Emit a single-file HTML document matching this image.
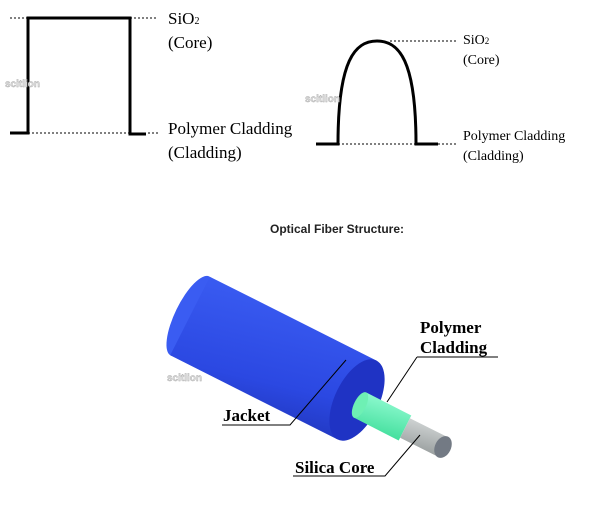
<!DOCTYPE html>
<html><head><style>body{margin:0;background:#fff}svg{display:block}</style></head><body>
<svg width="614" height="506" viewBox="0 0 614 506" xmlns="http://www.w3.org/2000/svg">
<defs>
<linearGradient id="jk" x1="0.3" y1="0" x2="0" y2="1">
<stop offset="0" stop-color="#3a5cf2"/><stop offset="0.55" stop-color="#2b48e2"/><stop offset="1" stop-color="#1a2ca8"/></linearGradient>
<linearGradient id="gr" x1="0.3" y1="0" x2="0" y2="1"><stop offset="0" stop-color="#8ffad0"/><stop offset="1" stop-color="#2fd890"/></linearGradient>
<linearGradient id="gy" x1="0.3" y1="0" x2="0" y2="1"><stop offset="0" stop-color="#d0d4d4"/><stop offset="1" stop-color="#8a9090"/></linearGradient>
</defs>
<g stroke="#000" fill="none">
<path d="M10 133H28V18H130V134H146" stroke-width="3"/>
<path d="M10 18H28M130 18H158M28 133H158" stroke-width="1" stroke-dasharray="2,2"/>
<path d="M316 144H338C338 60 355 41 377 41C399 41 416 60 416 144H438" stroke-width="3"/>
<path d="M390 41H458M338 144H458" stroke-width="1" stroke-dasharray="2,2"/>
</g>
<g font-family="Liberation Serif,serif" fill="#000">
<text x="168" y="24" font-size="17">SiO<tspan font-size="10">2</tspan></text>
<text x="168" y="48" font-size="17">(Core)</text>
<text x="168" y="134" font-size="17">Polymer Cladding</text>
<text x="168" y="158" font-size="17">(Cladding)</text>
<text x="463" y="44" font-size="14">SiO<tspan font-size="9">2</tspan></text>
<text x="463" y="64" font-size="14">(Core)</text>
<text x="463" y="140" font-size="14">Polymer Cladding</text>
<text x="463" y="160" font-size="14">(Cladding)</text>
</g>
<g font-family="Liberation Sans,sans-serif" font-size="10" font-weight="bold" fill="#ddd" stroke="#aaa" stroke-width="0.4">
<text x="5" y="87">scitlion</text><text x="305" y="102">scitlion</text><text x="167" y="381">scitlion</text>
</g>
<text x="337" y="233" text-anchor="middle" font-family="Liberation Sans,sans-serif" font-size="12" font-weight="bold" fill="#222">Optical Fiber Structure:</text>
<ellipse cx="190" cy="316" rx="15" ry="44" transform="rotate(26 190 316)" fill="#3a5cf2"/>
<path d="M209.8 276.7 L376.8 360.7 L337.2 439.3 L170.2 355.3 Z" fill="url(#jk)"/>
<ellipse cx="357" cy="400" rx="22" ry="44" transform="rotate(26 357 400)" fill="#1f33c4"/>
<path d="M353.7 417.5 L398.7 440.5 L411.3 415.5 L366.3 392.5 Z" fill="url(#gr)"/>
<ellipse cx="360" cy="405" rx="6" ry="14" transform="rotate(26 360 405)" fill="#6ef0b4"/>
<path d="M400.1 437.8 L438.1 456.8 L447.9 437.2 L409.9 418.2 Z" fill="url(#gy)"/>
<ellipse cx="443" cy="447" rx="8" ry="11.5" transform="rotate(26 443 447)" fill="#737a84"/>
<g stroke="#000" stroke-width="1" fill="none">
<path d="M417 357H498M417 357L387 402"/>
<path d="M222 425H290L346 360"/>
<path d="M293 476H385L420 435"/>
</g>
<g font-family="Liberation Serif,serif" font-weight="bold" font-size="17" fill="#000">
<text x="420" y="333">Polymer</text>
<text x="420" y="353">Cladding</text>
<text x="223" y="421">Jacket</text>
<text x="295" y="473">Silica Core</text>
</g>
</svg>
</body></html>
